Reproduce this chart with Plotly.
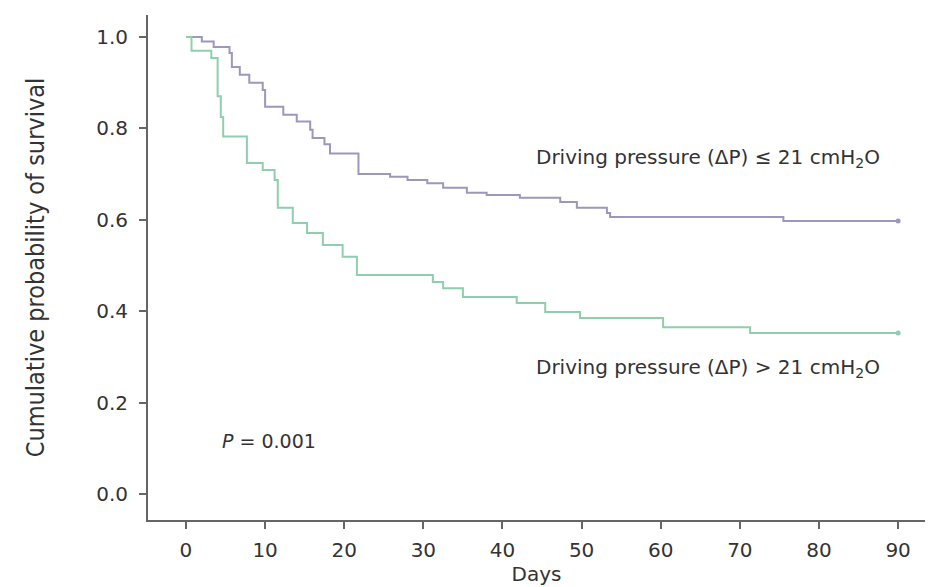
import plotly.graph_objects as go

# Kaplan-Meier step data (day, survival after step)
days_low = [0, 2, 3.5, 5.5, 5.8, 6.8, 8, 9.7, 10, 12.3, 14, 15.7, 16, 17.5, 18.2,
            21.8, 25.8, 28, 30.5, 32.5, 35.5, 38, 42.2, 47.3, 49.4, 53.2, 53.6, 75.5, 90]
surv_low = [1.0, 0.99, 0.978, 0.965, 0.934, 0.917, 0.90, 0.884, 0.847, 0.83, 0.815, 0.797,
            0.779, 0.765, 0.745, 0.70, 0.694, 0.687, 0.68, 0.67, 0.659, 0.654, 0.648,
            0.639, 0.626, 0.615, 0.606, 0.597, 0.597]

days_high = [0, 0.7, 3.2, 4.0, 4.4, 4.7, 7.7, 9.7, 11.2, 11.6, 13.5, 15.3, 17.3, 19.8,
             21.6, 31.2, 32.5, 35, 41.8, 45.4, 49.8, 60.3, 71.3, 90]
surv_high = [1.0, 0.97, 0.954, 0.87, 0.825, 0.782, 0.724, 0.709, 0.687, 0.626, 0.593,
             0.571, 0.545, 0.519, 0.479, 0.464, 0.45, 0.431, 0.418, 0.398, 0.385, 0.365,
             0.352, 0.352]

x_ticks = [0, 10, 20, 30, 40, 50, 60, 70, 80, 90]
y_ticks = [0.0, 0.2, 0.4, 0.6, 0.8, 1.0]
y_tick_labels = ["0.0", "0.2", "0.4", "0.6", "0.8", "1.0"]

label_low = "Driving pressure (ΔP) ≤ 21 cmH<sub>2</sub>O"
label_high = "Driving pressure (ΔP) > 21 cmH<sub>2</sub>O"
p_text = "<i>P</i> = 0.001"

col_low = "#9c98bb"
col_high = "#8fcfae"
txt = "#333333"
FONT = "DejaVu Sans"

fig = go.Figure()
fig.add_trace(go.Scatter(x=days_low, y=surv_low, mode="lines", line=dict(color=col_low, width=2, shape="hv"),
                         showlegend=False, hoverinfo="skip"))
fig.add_trace(go.Scatter(x=days_high, y=surv_high, mode="lines", line=dict(color=col_high, width=2, shape="hv"),
                         showlegend=False, hoverinfo="skip"))
fig.add_trace(go.Scatter(x=[days_low[-1], days_high[-1]], y=[surv_low[-1], surv_high[-1]], mode="markers",
                         marker=dict(color=[col_low, col_high], size=5), showlegend=False, hoverinfo="skip"))

fig.add_annotation(x=66, y=0.735, text=label_low, showarrow=False, xanchor="center", yanchor="middle",
                   font=dict(family=FONT, size=20, color=txt))
fig.add_annotation(x=66, y=0.276, text=label_high, showarrow=False, xanchor="center", yanchor="middle",
                   font=dict(family=FONT, size=20, color=txt))
fig.add_annotation(x=4.3, y=0.116, text=p_text, showarrow=False, xanchor="left", yanchor="middle",
                   font=dict(family=FONT, size=19, color=txt))

fig.update_layout(
    width=930, height=579,
    margin=dict(l=140, r=13, t=7, b=67, autoexpand=False),
    paper_bgcolor="white", plot_bgcolor="white",
    font=dict(family=FONT, color=txt),
)
fig.update_xaxes(range=[-4.8, 93.4], tickvals=x_ticks, showline=True, linecolor="#666", linewidth=2,
                 ticks="outside", ticklen=7, tickcolor="#666", tickwidth=2, showgrid=False, zeroline=False,
                 automargin=False, ticklabelstandoff=4,
                 tickfont=dict(family=FONT, size=20, color=txt),
                 title=dict(text="Days", font=dict(family=FONT, size=20, color=txt), standoff=4))
fig.update_yaxes(range=[-0.057, 1.048], tickvals=y_ticks, ticktext=y_tick_labels, showline=True, linecolor="#666",
                 linewidth=2, ticks="outside", ticklen=7, tickcolor="#666", tickwidth=2, showgrid=False,
                 zeroline=False, automargin=False, ticklabelstandoff=7,
                 tickfont=dict(family=FONT, size=20, color=txt),
                 title=dict(text="Cumulative probability of survival",
                            font=dict(family="Liberation Sans Narrow, DejaVu Sans Condensed, Liberation Sans", size=25, color=txt),
                            standoff=44))

fig.write_html("out.html")
